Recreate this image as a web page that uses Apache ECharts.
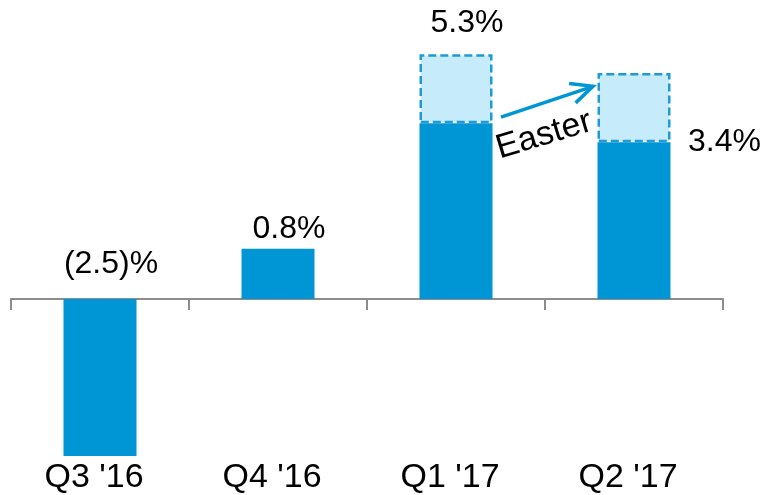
<!DOCTYPE html>
<html>
<head>
<meta charset="utf-8">
<script src="https://cdn.jsdelivr.net/npm/echarts@6/dist/echarts.min.js"></script>
<style>
  html, body { margin: 0; padding: 0; background: #fff; }
  #chart { width: 763px; height: 495px; }
</style>
</head>
<body>
<div id="chart"></div>
<script>
const categories = ["Q3 '16", "Q4 '16", "Q1 '17", "Q2 '17"];
// underlying growth (solid part) and Easter shift (dashed part), in chart units
const baseValues = [-2.5, 0.8, 2.8, 2.5];
const easterValues = [null, null, 1.1, 1.1];
const valueLabels = ['(2.5)%', '0.8%', '5.3%', '3.4%'];

const FONT = '"Liberation Sans", Arial, sans-serif';
const BLUE = '#0096d6';

const chart = echarts.init(document.getElementById('chart'));

// where each value label hangs: top of the visible stack, Q2 label sits beside the solid part
const labelAnchors = categories.map((c, i) => {
  if (i === 3) return baseValues[i];
  return Math.max(0, baseValues[i] + (easterValues[i] || 0));
});
const labelPlacement = [
  { position: 'top', distance: 19, offset: [11, 0] },
  { position: 'top', distance: 4, offset: [11, 0] },
  { position: 'top', distance: 15, offset: [11, 0] },
  { position: 'right', distance: 54, offset: [0, 0] },
];

chart.setOption({
  animation: false,
  grid: { left: 11, right: 40, top: 48, bottom: 39 },
  xAxis: [
    {
      type: 'category',
      data: categories,
      axisLine: { onZero: true, lineStyle: { color: '#8c8c8c', width: 2 } },
      axisTick: { show: true, length: 11, lineStyle: { color: '#8c8c8c', width: 2 } },
      axisLabel: { show: false },
    },
    {
      type: 'category',
      data: categories,
      position: 'bottom',
      axisLine: { show: false, onZero: false },
      axisTick: { show: false },
      axisLabel: {
        color: '#000',
        fontFamily: FONT,
        fontSize: 34,
        margin: 5,
        padding: [0, 12, 0, 0],
      },
    },
  ],
  yAxis: {
    type: 'value',
    min: -2.5,
    max: 4,
    show: false,
    splitLine: { show: false },
  },
  series: [
    {
      type: 'bar',
      stack: 'growth',
      barWidth: 73,
      data: baseValues,
      itemStyle: { color: BLUE },
      z: 1,
    },
    {
      type: 'bar',
      stack: 'growth',
      barWidth: 73,
      data: easterValues,
      itemStyle: {
        color: '#c6ebfb',
        borderColor: '#1e9ad6',
        borderWidth: 2.5,
        borderType: [8, 4],
      },
      z: 1,
    },
    {
      type: 'scatter',
      symbolSize: 0,
      silent: true,
      itemStyle: { opacity: 1 },
      data: labelAnchors.map((v, i) => ({
        value: [i, v],
        label: {
          show: true,
          position: labelPlacement[i].position,
          distance: labelPlacement[i].distance,
          offset: labelPlacement[i].offset,
          formatter: valueLabels[i],
          color: '#000',
          fontFamily: FONT,
          fontSize: 32,
        },
      })),
      z: 5,
    },
  ],
});

// Easter arrow from the Q1 bar to the Q2 bar
const px = (cat, v) => chart.convertToPixel({ xAxisIndex: 0, yAxisIndex: 0 }, [cat, v]);
const q1 = px(2, 2.9);
const q2 = px(3, 3.39);
const start = [q1[0] + 45, q1[1]];
const end = [q2[0] - 41, q2[1]];
const ang = Math.atan2(end[1] - start[1], end[0] - start[0]);
const head = 24, spread = 0.44;
const wing1 = [end[0] - head * Math.cos(ang - spread), end[1] - head * Math.sin(ang - spread)];
const wing2 = [end[0] - head * Math.cos(ang + spread), end[1] - head * Math.sin(ang + spread)];
const txt = px(2, 2.61);

chart.setOption({
  graphic: [
    {
      type: 'polyline',
      shape: { points: [start, end] },
      style: { stroke: BLUE, lineWidth: 3.5, fill: null },
      z: 10,
    },
    {
      type: 'polyline',
      shape: { points: [wing1, end, wing2] },
      style: { stroke: BLUE, lineWidth: 3.5, fill: null, lineJoin: 'miter' },
      z: 10,
    },
    {
      type: 'text',
      x: txt[0] + 88,
      y: txt[1],
      rotation: -ang - 0.03,
      style: {
        text: 'Easter',
        font: '34px ' + FONT,
        fill: '#000',
        align: 'center',
        verticalAlign: 'middle',
      },
      z: 10,
    },
  ],
});

window.addEventListener('resize', () => chart.resize());
</script>
</body>
</html>
